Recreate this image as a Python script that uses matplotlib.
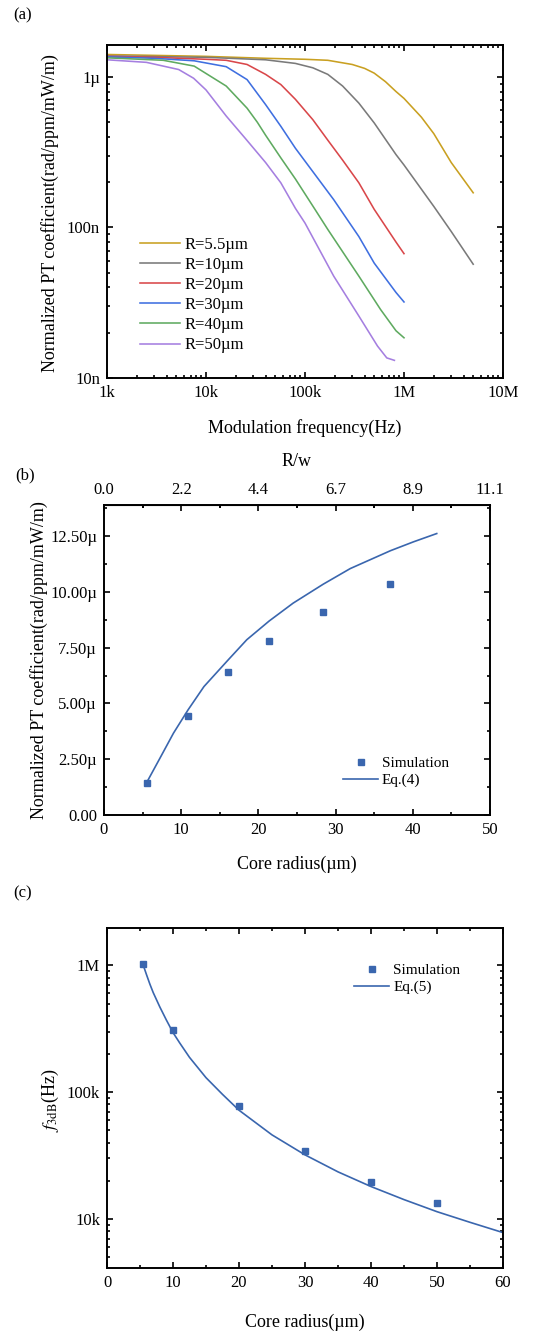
import matplotlib
matplotlib.use('Agg')
import matplotlib.pyplot as plt
import numpy as np
from matplotlib.ticker import EngFormatter, MultipleLocator, LogLocator, NullFormatter, FixedLocator

plt.rcParams['font.family'] = ['Liberation Serif', 'DejaVu Serif']
plt.rcParams['mathtext.fontset'] = 'stix'

### (a) data : normalized PT coefficient (in µ units) vs modulation frequency
f_55 = [1e3, 1e4, 4e4, 1e5, 1.7e5, 3e5, 4e5, 5e5, 6.5e5, 8.3e5, 1e6, 1.5e6, 2e6, 3e6, 5e6]
pt_55 = [1.41, 1.37, 1.33, 1.31, 1.29, 1.21, 1.14, 1.06, 0.93, 0.80, 0.72, 0.54, 0.42, 0.27, 0.17]

f_10 = [1e3, 1e4, 4e4, 8e4, 1.2e5, 1.7e5, 2.4e5, 3.5e5, 5e5, 8.3e5, 1e6, 2e6, 3e6, 5e6]
pt_10 = [1.38, 1.35, 1.30, 1.23, 1.15, 1.04, 0.87, 0.67, 0.495, 0.305, 0.26, 0.138, 0.094, 0.057]

f_20 = [1e3, 3e3, 1e4, 1.6e4, 2.6e4, 4e4, 5.7e4, 8e4, 1.2e5, 1.7e5, 2.4e5, 3.5e5, 5e5, 8.3e5, 1e6]
pt_20 = [1.37, 1.35, 1.31, 1.29, 1.21, 1.04, 0.89, 0.71, 0.52, 0.38, 0.28, 0.198, 0.132, 0.080, 0.067]

f_30 = [1e3, 3e3, 7.6e3, 1.6e4, 2.6e4, 4e4, 5.7e4, 8e4, 1.95e5, 3.5e5, 5e5, 8.3e5, 1e6]
pt_30 = [1.36, 1.33, 1.28, 1.17, 0.96, 0.655, 0.47, 0.336, 0.153, 0.087, 0.058, 0.037, 0.032]

f_40 = [1e3, 3.7e3, 7.6e3, 1.6e4, 2.6e4, 3.3e4, 4e4, 5.7e4, 8e4, 1.26e5, 1.7e5, 3.5e5, 5.8e5, 8.3e5, 1e6]
pt_40 = [1.34, 1.29, 1.18, 0.87, 0.62, 0.50, 0.41, 0.29, 0.21, 0.132, 0.097, 0.0475, 0.0285, 0.0206, 0.0185]

f_50 = [1e3, 2.5e3, 5.3e3, 7.5e3, 1e4, 1.6e4, 2.5e4, 4e4, 5.7e4, 8e4, 1e5, 1.95e5, 3.5e5, 5.4e5, 6.7e5, 8e5]
pt_50 = [1.30, 1.25, 1.12, 0.98, 0.82, 0.55, 0.39, 0.27, 0.198, 0.134, 0.107, 0.0475, 0.0258, 0.0163, 0.0136, 0.0131]

radius_labels = ['R=5.5µm', 'R=10µm', 'R=20µm', 'R=30µm', 'R=40µm', 'R=50µm']
colors_a = ['#C9A021', '#7A7A7A', '#D9474A', '#3F6FE0', '#5FAA60', '#A57FE0']

### (b) data
sim_r_b = [5.6, 10.9, 16.1, 21.4, 28.4, 37.1]
sim_pt_b = [1.42, 4.45, 6.41, 7.80, 9.10, 10.36]       # µ
eq4_r = [5.66, 7.25, 9.0, 10.9, 12.95, 16.1, 18.5, 21.4, 24.5, 28.4, 31.9, 37.1, 40.1, 43.1]
eq4_pt = [1.54, 2.55, 3.67, 4.72, 5.76, 6.96, 7.86, 8.70, 9.5, 10.35, 11.05, 11.85, 12.25, 12.62]
w_beam = 4.5   # R/w top axis

### (c) data
sim_r_c = [5.5, 10, 20, 30, 40, 50]
sim_f3db = [1.02e6, 3.07e5, 7.8e4, 3.46e4, 1.95e4, 1.33e4]
eq5_r = [5.5, 6, 6.5, 7, 8, 9, 10, 11, 12.5, 15, 17.5, 20, 25, 30, 35, 40, 45, 50, 55, 60]
eq5_f3db = [1.0e6, 8.4e5, 7.1e5, 6.1e5, 4.7e5, 3.7e5, 2.95e5, 2.45e5, 1.88e5, 1.30e5, 9.6e4,
            7.2e4, 4.6e4, 3.2e4, 2.35e4, 1.8e4, 1.42e4, 1.14e4, 9.4e3, 7.8e3]

blue = '#3A66AE'

fig = plt.figure(figsize=(5.53, 13.34), dpi=100)
W, H = 553.0, 1334.0

def box(l, t, r, b):
    return [l / W, 1 - b / H, (r - l) / W, (b - t) / H]

def style(ax, fs=12):
    ax.tick_params(which='both', direction='in', top=True, right=True, labelsize=fs, width=1.2)
    ax.tick_params(which='major', length=4.5, pad=5)
    ax.tick_params(which='minor', length=2.5)
    for s in ax.spines.values():
        s.set_linewidth(1.4)

########## (a) ##########
ax1 = fig.add_axes(box(107, 45, 503, 378))
fa = [f_55, f_10, f_20, f_30, f_40, f_50]
pa = [pt_55, pt_10, pt_20, pt_30, pt_40, pt_50]
for f, p, lab, c in zip(fa, pa, radius_labels, colors_a):
    ax1.plot(f, np.array(p) * 1e-6, color=c, lw=1.15, label=lab)
ax1.set_xscale('log')
ax1.set_yscale('log')
ax1.set_xlim(1e3, 1e7)
ax1.set_ylim(1e-8, 1.63e-6)
ax1.xaxis.set_major_formatter(EngFormatter(sep=''))
ax1.yaxis.set_major_formatter(EngFormatter(sep=''))
ax1.yaxis.set_minor_formatter(NullFormatter())
ax1.xaxis.set_minor_locator(LogLocator(subs=np.arange(2, 10)))
ax1.yaxis.set_minor_locator(LogLocator(subs=np.arange(2, 10)))
style(ax1)
ax1.legend(loc='center left', bbox_to_anchor=(0.083, 0.249), frameon=False, fontsize=12,
           handlelength=2.4, handletextpad=0.25, labelspacing=0.25, borderpad=0, borderaxespad=0)
fig.text(305 / W, 1 - 428 / H, 'Modulation frequency(Hz)', ha='center', va='center', fontsize=13)
fig.text(50 / W, 1 - 213 / H, 'Normalized PT coefficient(rad/ppm/mW/m)', ha='center', va='center',
         rotation=90, fontsize=13)
fig.text(13 / W, 1 - 15 / H, '(a)', ha='left', va='center', fontsize=12)

########## (b) ##########
ax2 = fig.add_axes(box(104, 505, 490, 815))
ax2.plot(eq4_r, np.array(eq4_pt) * 1e-6, color=blue, lw=1.2, label='Eq.(4)')
ax2.plot(sim_r_b, np.array(sim_pt_b) * 1e-6, 's', color=blue, ms=5, label='Simulation')
ax2.set_xlim(0, 50)
ax2.set_ylim(0, 13.9e-6)
ax2.xaxis.set_major_locator(MultipleLocator(10))
ax2.xaxis.set_minor_locator(MultipleLocator(5))
ax2.yaxis.set_major_locator(MultipleLocator(2.5e-6))
ax2.yaxis.set_minor_locator(MultipleLocator(1.25e-6))
ax2.yaxis.set_major_formatter(EngFormatter(sep='', places=2))
style(ax2)
ax2.tick_params(top=False)
top = ax2.secondary_xaxis('top', functions=(lambda r: r / w_beam, lambda q: q * w_beam))
top.set_xticks(np.arange(0, 51, 10) / w_beam)
top.set_xticklabels(['%.1f' % v for v in np.arange(0, 51, 10) / w_beam])
top.xaxis.set_minor_locator(FixedLocator(np.arange(5, 50, 10) / w_beam))
top.tick_params(which='both', direction='in', labelsize=12, width=1.2)
top.tick_params(which='major', length=4.5, pad=5)
top.tick_params(which='minor', length=2.5)
h, l = ax2.get_legend_handles_labels()
ax2.legend(h[::-1], l[::-1], loc='center left', bbox_to_anchor=(0.619, 0.139), frameon=False,
           fontsize=11, handlelength=2.3, handletextpad=0.25, labelspacing=0.2, borderpad=0,
           borderaxespad=0, numpoints=1)
fig.text(297 / W, 1 - 462 / H, 'R/w', ha='center', va='center', fontsize=13)
fig.text(297 / W, 1 - 864 / H, 'Core radius(µm)', ha='center', va='center', fontsize=13)
fig.text(39 / W, 1 - 660 / H, 'Normalized PT coefficient(rad/ppm/mW/m)', ha='center', va='center',
         rotation=90, fontsize=13)
fig.text(15 / W, 1 - 475 / H, '(b)', ha='left', va='center', fontsize=12)

########## (c) ##########
ax3 = fig.add_axes(box(107, 928, 503, 1268))
ax3.plot(eq5_r, eq5_f3db, color=blue, lw=1.2, label='Eq.(5)')
ax3.plot(sim_r_c, sim_f3db, 's', color=blue, ms=5, label='Simulation')
ax3.set_yscale('log')
ax3.set_xlim(0, 60)
ax3.set_ylim(4.1e3, 1.97e6)
ax3.xaxis.set_major_locator(MultipleLocator(10))
ax3.xaxis.set_minor_locator(MultipleLocator(5))
ax3.yaxis.set_major_formatter(EngFormatter(sep=''))
ax3.yaxis.set_minor_formatter(NullFormatter())
ax3.yaxis.set_minor_locator(LogLocator(subs=np.arange(2, 10)))
style(ax3)
h, l = ax3.get_legend_handles_labels()
ax3.legend(h[::-1], l[::-1], loc='center left', bbox_to_anchor=(0.624, 0.85), frameon=False,
           fontsize=11, handlelength=2.3, handletextpad=0.25, labelspacing=0.2, borderpad=0,
           borderaxespad=0, numpoints=1)
fig.text(305 / W, 1 - 1322 / H, 'Core radius(µm)', ha='center', va='center', fontsize=13)
fig.text(50 / W, 1 - 1100 / H, r'$f_{\mathrm{3dB}}$(Hz)', ha='center', va='center',
         rotation=90, fontsize=13)
fig.text(13 / W, 1 - 893 / H, '(c)', ha='left', va='center', fontsize=12)

fig.savefig('out.png', dpi=100)
